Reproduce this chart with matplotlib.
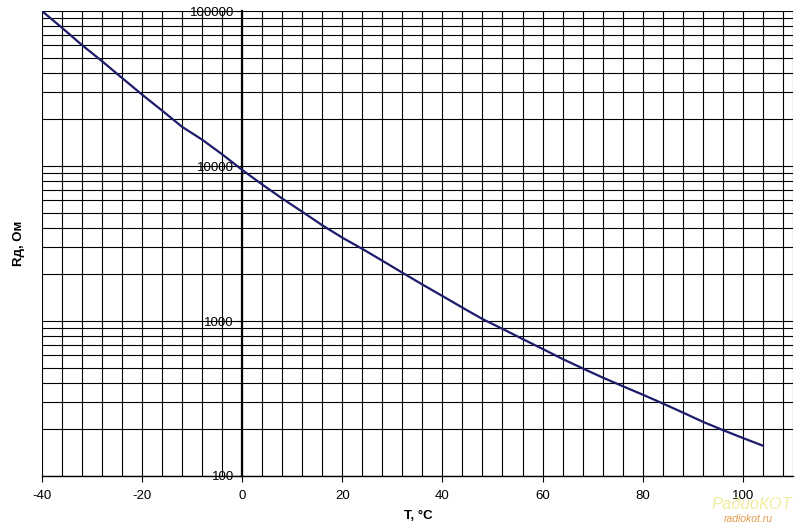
from matplotlib import pyplot as plt
from matplotlib.ticker import FixedLocator, NullFormatter, NullLocator
import numpy as np

# Temperature, degC
temperature = [-40, -36, -32, -28, -24, -20, -16, -12, -8, -4, 0, 4, 8, 12,
               16, 20, 24, 28, 32, 36, 40, 44, 48, 52, 56, 60, 64, 68, 72,
               76, 80, 84, 88, 92, 96, 100, 104]
# Sensor resistance, Ohm
resistance = [100000, 78000, 60300, 47500, 37000, 28900, 22800, 17900, 14800,
              11900, 9440, 7600, 6170, 5070, 4150, 3450, 2920, 2450, 2050,
              1720, 1450, 1220, 1030, 890, 766, 661, 569, 495, 432, 380, 335,
              294, 257, 224, 198, 176, 157]

x_major = [-40, -20, 0, 20, 40, 60, 80, 100]
y_major = [100, 1000, 10000, 100000]

plt.rcParams['font.family'] = ['Liberation Sans', 'DejaVu Sans']
plt.rcParams['axes.unicode_minus'] = False

fig = plt.figure(figsize=(8, 5.28), dpi=100)
ax = fig.add_axes([0.0525, 0.0985, 0.9385, 0.8805])

ax.set_yscale('log')
ax.set_xlim(-40, 110)
ax.set_ylim(100, 100000)

# grid: every 4 degC and every 1..9 per decade
for t in np.arange(-40, 110, 4):
    ax.axvline(t, color='black', lw=0.8, zorder=1)
ax.axvline(110, color='black', lw=0.8, zorder=1)
for dec in [100, 1000, 10000]:
    for k in range(1, 10):
        ax.axhline(dec * k, color='black', lw=0.8, zorder=1)
ax.axhline(100000, color='black', lw=0.8, zorder=1)

ax.plot(temperature, resistance, color='#1c1c6b', lw=1.6, zorder=3)

# axes like in the spreadsheet: y axis crosses at 0
ax.spines['left'].set_position(('data', 0))
ax.spines['left'].set_linewidth(1.6)
ax.spines['left'].set_zorder(2)
ax.spines['top'].set_visible(False)
ax.spines['right'].set_visible(False)
ax.spines['bottom'].set_linewidth(1.0)

ax.xaxis.set_major_locator(FixedLocator(x_major))
ax.xaxis.set_minor_locator(NullLocator())
ax.yaxis.set_major_locator(FixedLocator(y_major))
ax.yaxis.set_minor_locator(NullLocator())
ax.yaxis.set_minor_formatter(NullFormatter())
ax.set_yticklabels([str(v) for v in y_major])
ax.tick_params(axis='both', labelsize=9.5, length=4, width=0.8, direction='out',
               colors='black', pad=2)
ax.tick_params(axis='x', pad=6)

fig.text(0.024, 0.54, 'Rд, Ом', rotation=90, fontsize=9.5, fontweight='bold',
         ha='center', va='center')
fig.text(0.523, 0.022, 'T, °C', fontsize=9.5, fontweight='bold',
         ha='center', va='center')

# watermark
fig.text(0.94, 0.045, 'РадиоКОТ', fontsize=12, color='#f0ea8c', style='italic',
         ha='center', va='center', alpha=0.85, zorder=0)
fig.text(0.935, 0.017, 'radiokot.ru', fontsize=7.5, color='#e39a4a',
         style='italic', ha='center', va='center')

fig.savefig('out.png', dpi=100)
